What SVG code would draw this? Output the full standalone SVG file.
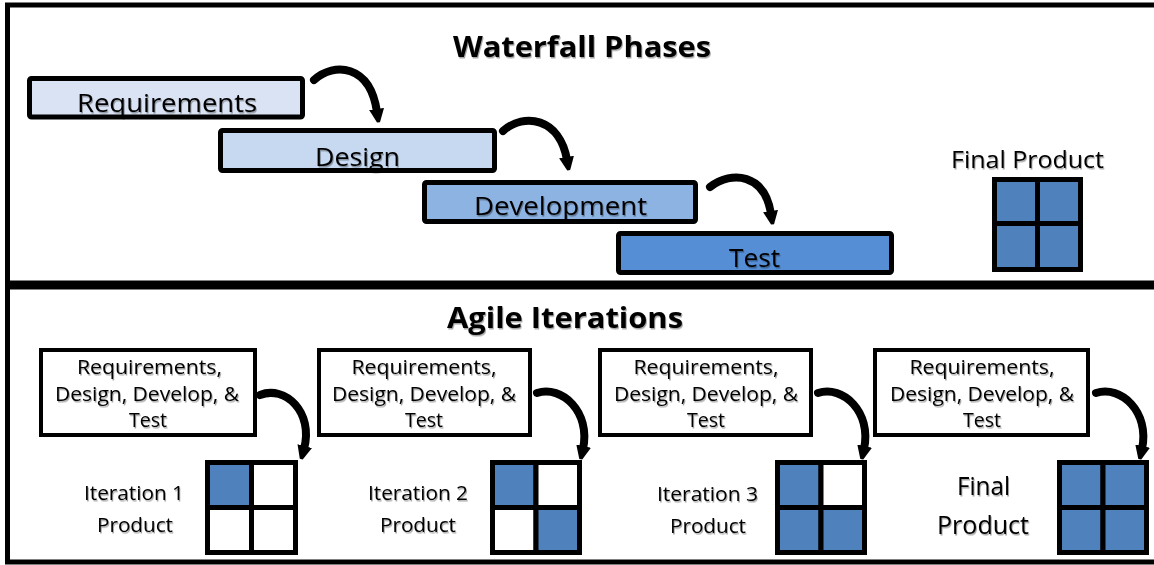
<svg xmlns="http://www.w3.org/2000/svg" width="1154" height="565" viewBox="0 0 1154 565">
<defs>
<style>
.frame{fill:none;stroke:#000;stroke-width:5}
.phase{stroke:#000;stroke-width:5}
.box{fill:#fff;stroke:#000;stroke-width:4}
.t{font-family:"Open Sans","Liberation Sans",sans-serif;fill:#000;text-anchor:middle;filter:url(#sh)}
.title{font-weight:bold;font-size:28px}
.pt{font-size:25px}
.bt{font-size:19.5px}
.cell{stroke:#000;stroke-width:5}
.on{fill:#4f81bd}
.off{fill:#fff}
.arc{fill:none;stroke:#000;stroke-width:8;stroke-linecap:round;marker-end:url(#ah)}
</style>
<filter id="sh" x="-10%" y="-20%" width="120%" height="150%">
<feDropShadow dx="1" dy="1.5" stdDeviation="0.6" flood-color="#000" flood-opacity="0.35"/>
</filter>
<marker id="ah" viewBox="0 0 10 10" refX="2" refY="5" markerWidth="15" markerHeight="15" markerUnits="userSpaceOnUse" orient="auto">
<path d="M0,0 L9,4 L9,6 L0,10 z" fill="#000"/>
</marker>
</defs>

<g id="frames">
<rect class="frame" x="7.5" y="5" width="1160" height="278"/>
<rect class="frame" x="7.5" y="287" width="1160" height="275"/>
</g>

<g id="waterfall-title"><text class="t title" x="582" y="57" textLength="258" lengthAdjust="spacingAndGlyphs">Waterfall Phases</text></g>

<g id="requirements">
<rect class="phase" x="29.5" y="78.5" width="273" height="38.5" rx="2" fill="#dae3f3"/>
<text class="t pt" x="167" y="112" textLength="180" lengthAdjust="spacingAndGlyphs">Requirements</text>
</g>
<g id="design">
<rect class="phase" x="220.5" y="130.5" width="274" height="40" rx="2" fill="#c6d9f1"/>
<text class="t pt" x="357.5" y="166" textLength="85" lengthAdjust="spacingAndGlyphs">Design</text>
</g>
<g id="development">
<rect class="phase" x="424.5" y="182.5" width="271" height="39" rx="2" fill="#8db3e2"/>
<text class="t pt" x="560.5" y="215" textLength="173" lengthAdjust="spacingAndGlyphs">Development</text>
</g>
<g id="test">
<rect class="phase" x="618.5" y="233.5" width="273" height="39" rx="2" fill="#558ed5"/>
<text class="t pt" x="754.5" y="267" textLength="51" lengthAdjust="spacingAndGlyphs">Test</text>
</g>

<g id="final-product-top">
<text class="t" style="font-size:23px" x="1027.5" y="168" textLength="153" lengthAdjust="spacingAndGlyphs">Final Product</text>
<g transform="translate(994.5,179.5)">
<rect class="cell on" x="0" y="0" width="43" height="44"/>
<rect class="cell on" x="43" y="0" width="43" height="44"/>
<rect class="cell on" x="0" y="44" width="43" height="46"/>
<rect class="cell on" x="43" y="44" width="43" height="46"/>
</g>
</g>

<g id="agile-title"><text class="t title" x="565" y="328" textLength="236" lengthAdjust="spacingAndGlyphs">Agile Iterations</text></g>

<g id="iter1-box">
<rect class="box" x="41" y="350" width="214" height="85"/>
<text class="t bt" x="149.5" y="374" textLength="145" lengthAdjust="spacingAndGlyphs">Requirements,</text>
<text class="t bt" x="147" y="400.5" textLength="184" lengthAdjust="spacingAndGlyphs">Design, Develop, &amp;</text>
<text class="t bt" x="148" y="426.5" textLength="38" lengthAdjust="spacingAndGlyphs">Test</text>
</g>
<g id="iter2-box">
<rect class="box" x="319" y="350" width="211" height="85"/>
<text class="t bt" x="424" y="374" textLength="145" lengthAdjust="spacingAndGlyphs">Requirements,</text>
<text class="t bt" x="424" y="400.5" textLength="184" lengthAdjust="spacingAndGlyphs">Design, Develop, &amp;</text>
<text class="t bt" x="424" y="426.5" textLength="38" lengthAdjust="spacingAndGlyphs">Test</text>
</g>
<g id="iter3-box">
<rect class="box" x="600" y="350" width="211" height="85"/>
<text class="t bt" x="706" y="374" textLength="145" lengthAdjust="spacingAndGlyphs">Requirements,</text>
<text class="t bt" x="706" y="400.5" textLength="184" lengthAdjust="spacingAndGlyphs">Design, Develop, &amp;</text>
<text class="t bt" x="706" y="426.5" textLength="38" lengthAdjust="spacingAndGlyphs">Test</text>
</g>
<g id="iter4-box">
<rect class="box" x="875" y="350" width="213" height="85"/>
<text class="t bt" x="982" y="374" textLength="145" lengthAdjust="spacingAndGlyphs">Requirements,</text>
<text class="t bt" x="982" y="400.5" textLength="184" lengthAdjust="spacingAndGlyphs">Design, Develop, &amp;</text>
<text class="t bt" x="982" y="426.5" textLength="38" lengthAdjust="spacingAndGlyphs">Test</text>
</g>

<g id="iter1-product">
<text class="t bt" x="134" y="500" textLength="100" lengthAdjust="spacingAndGlyphs">Iteration 1</text>
<text class="t bt" x="135" y="532" textLength="76" lengthAdjust="spacingAndGlyphs">Product</text>
<g transform="translate(207.5,462.5)">
<rect class="cell on" x="0" y="0" width="44" height="45"/>
<rect class="cell off" x="44" y="0" width="44" height="45"/>
<rect class="cell off" x="0" y="45" width="44" height="45"/>
<rect class="cell off" x="44" y="45" width="44" height="45"/>
</g>
</g>
<g id="iter2-product">
<text class="t bt" x="418" y="500" textLength="100" lengthAdjust="spacingAndGlyphs">Iteration 2</text>
<text class="t bt" x="418" y="532" textLength="76" lengthAdjust="spacingAndGlyphs">Product</text>
<g transform="translate(492.5,462.5)">
<rect class="cell on" x="0" y="0" width="43.5" height="45"/>
<rect class="cell off" x="43.5" y="0" width="43.5" height="45"/>
<rect class="cell off" x="0" y="45" width="43.5" height="45"/>
<rect class="cell on" x="43.5" y="45" width="43.5" height="45"/>
</g>
</g>
<g id="iter3-product">
<text class="t bt" x="707.5" y="501" textLength="101" lengthAdjust="spacingAndGlyphs">Iteration 3</text>
<text class="t bt" x="708" y="533" textLength="76" lengthAdjust="spacingAndGlyphs">Product</text>
<g transform="translate(777.5,462.5)">
<rect class="cell on" x="0" y="0" width="43.5" height="45"/>
<rect class="cell off" x="43.5" y="0" width="43.5" height="45"/>
<rect class="cell on" x="0" y="45" width="43.5" height="45"/>
<rect class="cell on" x="43.5" y="45" width="43.5" height="45"/>
</g>
</g>
<g id="final-product">
<text class="t" style="font-size:26px" x="983.5" y="495" textLength="53" lengthAdjust="spacingAndGlyphs">Final</text>
<text class="t" style="font-size:26px" x="983" y="534" textLength="92" lengthAdjust="spacingAndGlyphs">Product</text>
<g transform="translate(1059.5,462.5)">
<rect class="cell on" x="0" y="0" width="43.5" height="45"/>
<rect class="cell on" x="43.5" y="0" width="43.5" height="45"/>
<rect class="cell on" x="0" y="45" width="43.5" height="45"/>
<rect class="cell on" x="43.5" y="45" width="43.5" height="45"/>
</g>
</g>

<g id="connectors">
<path class="arc" d="M314 80 C334 62 370 64 377 112"/>
<path class="arc" d="M503 131 C524 112 560 118 567 160"/>
<path class="arc" d="M710 187 C732 170 765 174 771 214"/>
<path class="arc" d="M260 395 C285 385 314 412 304 449"/>
<path class="arc" d="M537 393 C562 385 591 412 583 449"/>
<path class="arc" d="M818 393 C843 385 872 412 864 449"/>
<path class="arc" d="M1096 393 C1121 385 1150 412 1142 449"/>
</g>
</svg>
